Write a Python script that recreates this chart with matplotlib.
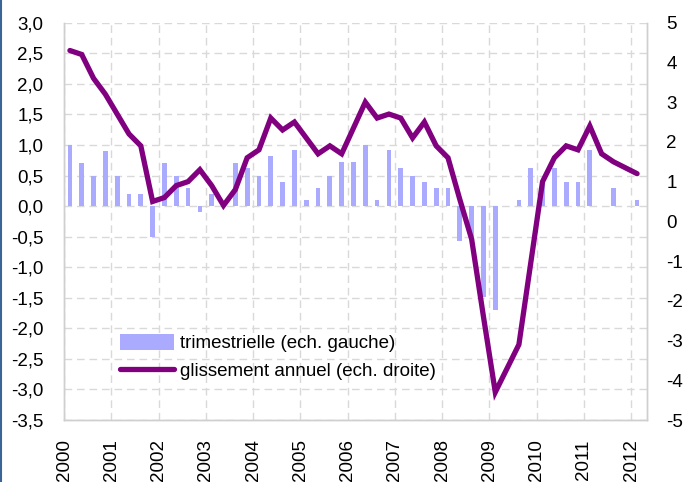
import matplotlib
matplotlib.use("Agg")
import matplotlib.pyplot as plt
from matplotlib.lines import Line2D
import numpy as np

plt.rcParams['font.family'] = ['Liberation Sans', 'DejaVu Sans']

years = [str(y) for y in range(2000, 2013)]
quarterly = [1.0, 0.7, 0.5, 0.9, 0.5, 0.2, 0.2, -0.5,
             0.7, 0.5, 0.3, -0.1, 0.2, 0.0, 0.7, 0.62,
             0.5, 0.82, 0.4, 0.92, 0.1, 0.3, 0.5, 0.72,
             0.72, 1.0, 0.1, 0.92, 0.62, 0.5, 0.4, 0.3,
             0.3, -0.57, -0.5, -1.48, -1.7, 0.0, 0.1, 0.62,
             0.4, 0.62, 0.4, 0.4, 0.92, 0.0, 0.3, 0.0, 0.1]
annual = [4.3, 4.2, 3.6, 3.2, 2.7, 2.2, 1.9, 0.5,
          0.6, 0.9, 1.0, 1.3, 0.9, 0.4, 0.8, 1.6,
          1.8, 2.6, 2.3, 2.5, 2.1, 1.7, 1.9, 1.7,
          2.35, 3.0, 2.6, 2.7, 2.6, 2.1, 2.5, 1.9,
          1.6, 0.55, -0.45, -2.4, -4.3, -3.7, -3.1, -1.05,
          1.0, 1.6, 1.9, 1.8, 2.4, 1.7, 1.5, 1.35, 1.2]
label_bar = "trimestrielle (ech. gauche)"
label_line = "glissement annuel (ech. droite)"
left_ticks = np.arange(-3.5, 3.01, 0.5)
right_ticks = np.arange(-5, 6, 1)

W, H = 684, 482
fig = plt.figure(figsize=(W / 100, H / 100), dpi=100)
ax = fig.add_axes([64 / W, 1 - 420 / H, (647 - 64) / W, (420 - 22.7) / H])
ax2 = ax.twinx()

x = np.arange(len(quarterly))
bars = ax.bar(x, quarterly, width=0.4, color='#aaaaff', zorder=2)
line, = ax2.plot(x, annual, color='#800080', lw=3.8, solid_joinstyle='miter',
                 solid_capstyle='round', zorder=3)

ax.set_xlim(-0.5, 48.84)
ax.set_ylim(-3.5, 3.0)
ax2.set_ylim(-5, 5)

grid_kw = dict(color='#d9d9d9', lw=1.0, linestyle=(0, (5.5, 3.5)))
ax.set_yticks(left_ticks)
ax.set_yticklabels([f"{v:.1f}".replace('.', ',') for v in left_ticks])
ax2.set_yticks(right_ticks)
ax2.set_yticklabels([str(v) for v in right_ticks])

xt = [4 * k - 0.5 for k in range(len(years))]
ax.set_xticks(xt)
ax.set_xticklabels(years, rotation=90)
ax.set_axisbelow(True)
ax.grid(True, axis='both', **grid_kw)

fs = 13.5
ax.tick_params(axis='y', length=0, pad=15, labelsize=fs, colors='#000000')
ax.tick_params(axis='x', length=0, pad=14, labelsize=fs)
ax2.tick_params(axis='y', length=0, pad=14, labelsize=fs)
for t in ax2.get_yticklabels():
    t.set_horizontalalignment('left')

for a in (ax, ax2):
    for s in ['left', 'right', 'bottom']:
        a.spines[s].set_color('#cfcfcf')
        a.spines[s].set_linewidth(1.0)
    a.spines['top'].set_visible(False)

ax2.legend([bars, line], [label_bar, label_line], loc='upper left',
           bbox_to_anchor=(120 / W, 1 - 334 / H), bbox_transform=fig.transFigure,
           frameon=False, fontsize=fs, handlelength=2.9, handleheight=0.9,
           handletextpad=0.3, labelspacing=0.5, borderpad=0, borderaxespad=0)

fig.add_artist(Line2D([0.0018, 0.0018], [0, 1], color='#3b6596', lw=1.5,
                      transform=fig.transFigure))

fig.savefig('out.png', dpi=100)
